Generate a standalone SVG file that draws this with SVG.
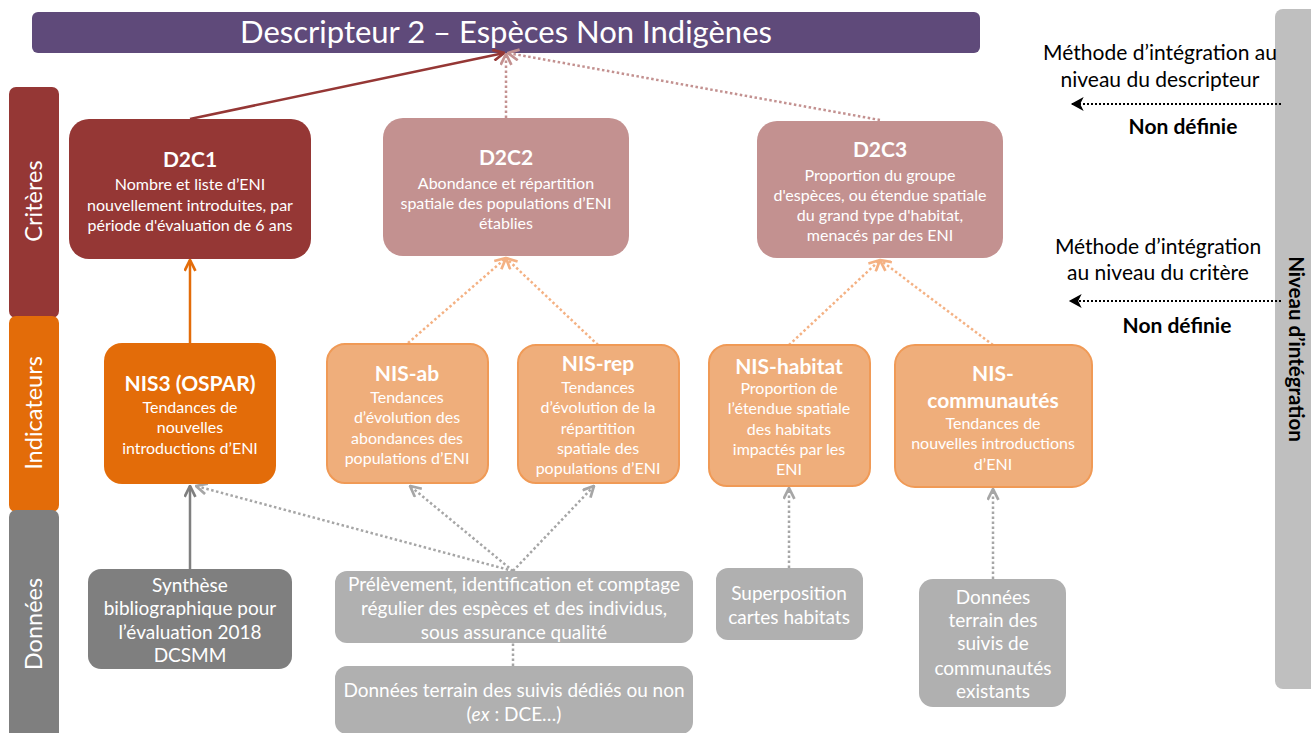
<svg xmlns="http://www.w3.org/2000/svg" width="1311" height="733" viewBox="0 0 1311 733">
<defs>
<style>
text{font-family:Lato,"Open Sans","Liberation Sans",sans-serif;fill:#fff;text-anchor:middle}
.t{font-size:16px}
.h{font-size:21px;font-weight:bold}
.d{font-size:19px}
.side{font-size:23.5px}
.r{font-size:21px;fill:#000}
.rb{font-size:21px;fill:#000;font-weight:bold}
.ln{fill:none;stroke-width:2.5}
.dot{stroke-dasharray:2.5 2.5}
</style>
<marker id="mRed" viewBox="0 0 12 12" refX="11" refY="6" markerWidth="13" markerHeight="13" markerUnits="userSpaceOnUse" orient="auto"><path d="M1,1 L11,6 L1,11" fill="none" stroke="#953735" stroke-width="2.5"/></marker>
<marker id="mPink" viewBox="0 0 12 12" refX="11" refY="6" markerWidth="13" markerHeight="13" markerUnits="userSpaceOnUse" orient="auto"><path d="M1,1 L11,6 L1,11" fill="none" stroke="#c39190" stroke-width="2.5"/></marker>
<marker id="mOr" viewBox="0 0 12 12" refX="11" refY="6" markerWidth="13" markerHeight="13" markerUnits="userSpaceOnUse" orient="auto"><path d="M1,1 L11,6 L1,11" fill="none" stroke="#e36c09" stroke-width="2.5"/></marker>
<marker id="mLor" viewBox="0 0 12 12" refX="11" refY="6" markerWidth="13" markerHeight="13" markerUnits="userSpaceOnUse" orient="auto"><path d="M1,1 L11,6 L1,11" fill="none" stroke="#f4b183" stroke-width="2.5"/></marker>
<marker id="mGr" viewBox="0 0 12 12" refX="11" refY="6" markerWidth="13" markerHeight="13" markerUnits="userSpaceOnUse" orient="auto"><path d="M1,1 L11,6 L1,11" fill="none" stroke="#7f7f7f" stroke-width="2.5"/></marker>
<marker id="mLgr" viewBox="0 0 12 12" refX="11" refY="6" markerWidth="13" markerHeight="13" markerUnits="userSpaceOnUse" orient="auto"><path d="M1,1 L11,6 L1,11" fill="none" stroke="#a6a6a6" stroke-width="2.5"/></marker>
<marker id="mBlk" viewBox="0 0 12 12" refX="10" refY="6" markerWidth="14" markerHeight="14" markerUnits="userSpaceOnUse" orient="auto"><path d="M0,0 L11,6 L0,12 L3,6 Z" fill="#000"/></marker>
</defs>
<rect width="1311" height="733" fill="#fff"/>

<g id="side-bar">
<rect x="9" y="87" width="50" height="231" rx="7" fill="#953735"/>
<rect x="9" y="316" width="50" height="196" rx="7" fill="#e36c09"/>
<rect x="9" y="510" width="50" height="232" rx="7" fill="#7f7f7f"/>
<text class="side" transform="translate(34,201) rotate(-90)" dy="8">Critères</text>
<text class="side" transform="translate(34,413) rotate(-90)" dy="8">Indicateurs</text>
<text class="side" transform="translate(34,624) rotate(-90)" dy="8">Données</text>
</g>

<g id="level-bar">
<rect x="1275" y="9" width="50" height="680" rx="8" fill="#bfbfbf"/>
<text class="rb" style="font-size:20.5px" transform="translate(1296,349) rotate(90)" dy="7">Niveau d’intégration</text>
</g>

<g id="title">
<rect x="32" y="12" width="948" height="41" rx="6" fill="#5f4a7a"/>
<text x="506" y="43" style="font-size:31px">Descripteur 2 – Espèces Non Indigènes</text>
</g>

<g id="connectors">
<line class="ln" x1="190" y1="119" x2="504" y2="53" stroke="#953735" marker-end="url(#mRed)"/>
<line class="ln dot" x1="506" y1="118" x2="506" y2="54" stroke="#c39190" marker-end="url(#mPink)"/>
<line class="ln dot" x1="880" y1="120" x2="508" y2="53" stroke="#c39190" marker-end="url(#mPink)"/>
<line class="ln" x1="190" y1="343" x2="190" y2="260" stroke="#e36c09" marker-end="url(#mOr)"/>
<line class="ln dot" x1="408" y1="343" x2="506" y2="258" stroke="#f4b183" marker-end="url(#mLor)"/>
<line class="ln dot" x1="598" y1="345" x2="506" y2="258" stroke="#f4b183" marker-end="url(#mLor)"/>
<line class="ln dot" x1="789" y1="345" x2="880" y2="260" stroke="#f4b183" marker-end="url(#mLor)"/>
<line class="ln dot" x1="993" y1="345" x2="880" y2="260" stroke="#f4b183" marker-end="url(#mLor)"/>
<line class="ln" x1="190" y1="569" x2="190" y2="486" stroke="#7f7f7f" marker-end="url(#mGr)"/>
<line class="ln dot" x1="513" y1="571" x2="196" y2="486" stroke="#a6a6a6" marker-end="url(#mLgr)"/>
<line class="ln dot" x1="513" y1="571" x2="410" y2="486" stroke="#a6a6a6" marker-end="url(#mLgr)"/>
<line class="ln dot" x1="513" y1="571" x2="594" y2="486" stroke="#a6a6a6" marker-end="url(#mLgr)"/>
<line class="ln dot" x1="513" y1="666" x2="513" y2="643" stroke="#a6a6a6"/>
<line class="ln dot" x1="789" y1="568" x2="789" y2="488" stroke="#a6a6a6" marker-end="url(#mLgr)"/>
<line class="ln dot" x1="993" y1="579" x2="993" y2="489" stroke="#a6a6a6" marker-end="url(#mLgr)"/>
<line x1="1281" y1="104" x2="1072" y2="104" stroke="#000" stroke-width="2" stroke-dasharray="2 2" marker-end="url(#mBlk)"/>
<line x1="1281" y1="301" x2="1070" y2="301" stroke="#000" stroke-width="2" stroke-dasharray="2 2" marker-end="url(#mBlk)"/>
</g>

<g id="D2C1">
<rect x="69" y="119" width="242" height="140" rx="20" fill="#953735"/>
<text class="h" x="190" y="167">D2C1</text>
<text class="t" x="190" y="190">Nombre et liste d’ENI</text>
<text class="t" x="190" y="211">nouvellement introduites, par</text>
<text class="t" x="190" y="231">période d'évaluation de 6 ans</text>
</g>

<g id="D2C2">
<rect x="383" y="118" width="246" height="138" rx="20" fill="#c39190"/>
<text class="h" x="506" y="164.5">D2C2</text>
<text class="t" x="506" y="188.5">Abondance et répartition</text>
<text class="t" x="506" y="208.5">spatiale des populations d’ENI</text>
<text class="t" x="506" y="228.5">établies</text>
</g>

<g id="D2C3">
<rect x="757" y="121" width="246" height="137" rx="20" fill="#c39190"/>
<text class="h" x="880" y="156.5">D2C3</text>
<text class="t" x="880" y="180.5">Proportion du groupe</text>
<text class="t" x="880" y="200.5">d'espèces, ou étendue spatiale</text>
<text class="t" x="880" y="220.5">du grand type d'habitat,</text>
<text class="t" x="880" y="240.5">menacés par des ENI</text>
</g>

<g id="NIS3">
<rect x="104" y="343" width="172" height="141" rx="18" fill="#e36c09"/>
<text class="h" x="190" y="390.5">NIS3 (OSPAR)</text>
<text class="t" x="190" y="412.5">Tendances de</text>
<text class="t" x="190" y="432.5">nouvelles</text>
<text class="t" x="190" y="453.5">introductions d’ENI</text>
</g>

<g id="NIS-ab">
<rect x="327" y="344" width="161" height="139" rx="18" fill="#efae7b" stroke="#f09a56" stroke-width="2"/>
<text class="h" x="407" y="380.5">NIS-ab</text>
<text class="t" x="407" y="402.5">Tendances</text>
<text class="t" x="407" y="423">d’évolution des</text>
<text class="t" x="407" y="443.5">abondances des</text>
<text class="t" x="407" y="464">populations d’ENI</text>
</g>

<g id="NIS-rep">
<rect x="518" y="345" width="161" height="138" rx="18" fill="#efae7b" stroke="#f09a56" stroke-width="2"/>
<text class="h" x="598" y="370.5">NIS-rep</text>
<text class="t" x="598" y="392.5">Tendances</text>
<text class="t" x="598" y="413">d’évolution de la</text>
<text class="t" x="598" y="433.5">répartition</text>
<text class="t" x="598" y="454">spatiale des</text>
<text class="t" x="598" y="474">populations d’ENI</text>
</g>

<g id="NIS-habitat">
<rect x="709" y="345" width="161" height="141" rx="18" fill="#efae7b" stroke="#f09a56" stroke-width="2"/>
<text class="h" x="789" y="373.5">NIS-habitat</text>
<text class="t" x="789" y="393.5">Proportion de</text>
<text class="t" x="789" y="414">l’étendue spatiale</text>
<text class="t" x="789" y="434.5">des habitats</text>
<text class="t" x="789" y="455">impactés par les</text>
<text class="t" x="789" y="475">ENI</text>
</g>

<g id="NIS-communautes">
<rect x="895" y="345" width="197" height="142" rx="20" fill="#efae7b" stroke="#f09a56" stroke-width="2"/>
<text class="h" x="993" y="380.5">NIS-</text>
<text class="h" x="993" y="407.5">communautés</text>
<text class="t" x="993" y="428.5">Tendances de</text>
<text class="t" x="993" y="449">nouvelles introductions</text>
<text class="t" x="993" y="469.5">d’ENI</text>
</g>

<g id="synthese">
<rect x="88" y="569" width="204" height="100" rx="13" fill="#7f7f7f"/>
<text class="d" x="190" y="591.5">Synthèse</text>
<text class="d" x="190" y="614.5">bibliographique pour</text>
<text class="d" x="190" y="638.5">l’évaluation 2018</text>
<text class="d" x="190" y="661.5">DCSMM</text>
</g>

<g id="prelevement">
<rect x="335" y="571" width="358" height="72" rx="12" fill="#b0b0b0"/>
<text class="d" x="514" y="590.5">Prélèvement, identification et comptage</text>
<text class="d" x="514" y="614.5">régulier des espèces et des individus,</text>
<text class="d" x="514" y="638.5">sous assurance qualité</text>
</g>

<g id="donnees-terrain">
<rect x="335" y="666" width="358" height="68" rx="12" fill="#b0b0b0"/>
<text class="d" x="514" y="696.5">Données terrain des suivis dédiés ou non</text>
<text class="d" x="514" y="720.5">(<tspan font-style="italic">ex</tspan> : DCE…)</text>
</g>

<g id="superposition">
<rect x="716" y="568" width="147" height="72" rx="12" fill="#b0b0b0"/>
<text class="d" x="789" y="599.5">Superposition</text>
<text class="d" x="789" y="623.5">cartes habitats</text>
</g>

<g id="donnees-communautes">
<rect x="919" y="579" width="147" height="128" rx="14" fill="#b0b0b0"/>
<text class="d" x="993" y="603.5">Données</text>
<text class="d" x="993" y="626.5">terrain des</text>
<text class="d" x="993" y="649.5">suivis de</text>
<text class="d" x="993" y="674.5">communautés</text>
<text class="d" x="993" y="697.5">existants</text>
</g>

<g id="methods">
<text class="r" x="1160" y="59.5">Méthode d’intégration au</text>
<text class="r" x="1160" y="86.5">niveau du descripteur</text>
<text class="rb" x="1183" y="133.5">Non définie</text>
<text class="r" x="1158" y="253.5">Méthode d’intégration</text>
<text class="r" x="1158" y="279.5">au niveau du critère</text>
<text class="rb" x="1177" y="332.5">Non définie</text>
</g>
</svg>
